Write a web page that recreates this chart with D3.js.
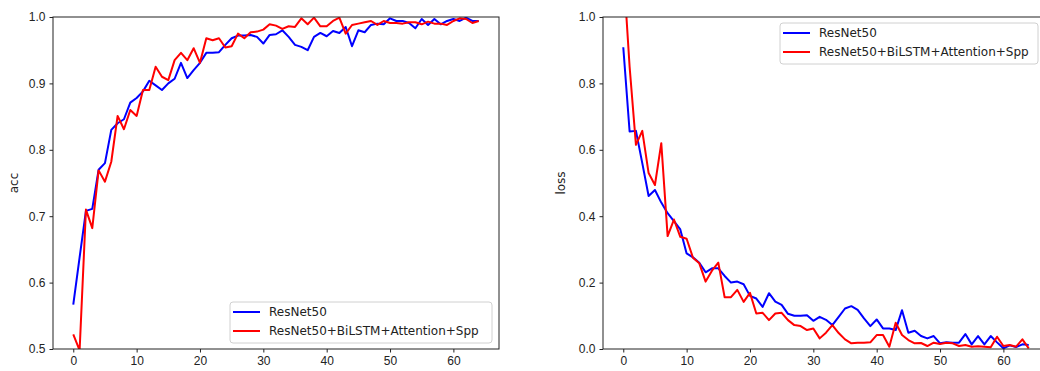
<!DOCTYPE html>
<html>
<head>
<meta charset="utf-8">
<script src="https://cdn.jsdelivr.net/npm/d3@7"></script>
<style>
  body { margin: 0; background: #fff; }
  svg { display: block; font-family: "DejaVu Sans", sans-serif; }
  .tick text { font-size: 12px; fill: #222; }
  .tick line { stroke: #222; }
</style>
</head>
<body>
<svg width="1040" height="371"></svg>
<script>
// epochs 0..64
const epochs = d3.range(65);

const seriesNames = ["ResNet50", "ResNet50+BiLSTM+Attention+Spp"];
const seriesColors = ["#0000ff", "#ff0000"];

const accResNet = [
    0.567, 0.638, 0.708, 0.711, 0.770, 0.780, 0.830, 0.840, 0.846, 0.871,
    0.878, 0.888, 0.904, 0.897, 0.890, 0.900, 0.907, 0.931, 0.908, 0.920,
    0.931, 0.946, 0.946, 0.947, 0.958, 0.968, 0.972, 0.972, 0.973, 0.970,
    0.960, 0.973, 0.974, 0.980, 0.970, 0.958, 0.955, 0.950, 0.970, 0.976,
    0.971, 0.979, 0.976, 0.985, 0.956, 0.980, 0.977, 0.988, 0.990, 0.989,
    0.998, 0.994, 0.994, 0.991, 0.983, 0.997, 0.988, 0.997, 0.989, 0.994,
    0.997, 0.994, 0.999, 0.994, 0.994
];
const accOurs = [
    0.522, 0.498, 0.710, 0.682, 0.769, 0.752, 0.782, 0.851, 0.831, 0.860,
    0.851, 0.890, 0.890, 0.925, 0.910, 0.905, 0.935, 0.946, 0.935, 0.953,
    0.931, 0.968, 0.965, 0.968, 0.954, 0.956, 0.975, 0.968, 0.977, 0.978,
    0.981, 0.989, 0.987, 0.982, 0.986, 0.985, 0.998, 0.989, 0.999, 0.986,
    0.986, 0.994, 0.999, 0.975, 0.988, 0.990, 0.992, 0.994, 0.988, 0.994,
    0.991, 0.991, 0.990, 0.992, 0.992, 0.989, 0.993, 0.990, 0.990, 0.988,
    0.994, 0.998, 0.997, 0.991, 0.994
];
const lossResNet = [
    0.909, 0.655, 0.657, 0.560, 0.461, 0.479, 0.441, 0.409, 0.385, 0.360,
    0.288, 0.276, 0.260, 0.231, 0.243, 0.243, 0.220, 0.200, 0.203, 0.195,
    0.160, 0.152, 0.127, 0.168, 0.143, 0.133, 0.106, 0.100, 0.100, 0.102,
    0.085, 0.097, 0.088, 0.072, 0.097, 0.122, 0.129, 0.118, 0.092, 0.069,
    0.089, 0.062, 0.062, 0.057, 0.117, 0.049, 0.055, 0.039, 0.032, 0.039,
    0.017, 0.020, 0.019, 0.019, 0.045, 0.014, 0.039, 0.014, 0.039, 0.020,
    0.002, 0.011, 0.006, 0.014, 0.012
];
const lossOurs = [
    1.150, 0.850, 0.615, 0.657, 0.530, 0.494, 0.620, 0.340, 0.390, 0.338,
    0.332, 0.275, 0.258, 0.203, 0.236, 0.260, 0.156, 0.156, 0.178, 0.142,
    0.169, 0.107, 0.109, 0.087, 0.107, 0.109, 0.087, 0.072, 0.069, 0.057,
    0.062, 0.032, 0.049, 0.072, 0.048, 0.029, 0.017, 0.019, 0.019, 0.020,
    0.042, 0.042, 0.007, 0.079, 0.042, 0.027, 0.017, 0.018, 0.009, 0.019,
    0.015, 0.019, 0.017, 0.009, 0.012, 0.007, 0.008, 0.007, 0.005, 0.037,
    0.009, 0.012, 0.007, 0.029, 0.002
];

const xTicks = [0, 10, 20, 30, 40, 50, 60];
const accTicks = [0.5, 0.6, 0.7, 0.8, 0.9, 1.0];
const lossTicks = [0.0, 0.2, 0.4, 0.6, 0.8, 1.0];

const svg = d3.select("svg");

function drawPanel(opts) {
    const { left, top, width, height } = opts;
    const g = svg.append("g").attr("transform", `translate(${left},${top})`);

    // matplotlib style margins around 0..64
    const x = d3.scaleLinear().domain([-3.2, 67.2]).range([0, width]);
    const y = d3.scaleLinear().domain(opts.yDomain).range([height, 0]);

    g.append("clipPath").attr("id", opts.id)
        .append("rect").attr("width", width).attr("height", height);

    const line = d3.line()
        .x((d, i) => x(epochs[i]))
        .y(d => y(d));

    opts.series.forEach((s, k) => {
        g.append("path")
            .attr("clip-path", `url(#${opts.id})`)
            .attr("d", line(s))
            .attr("fill", "none")
            .attr("stroke", seriesColors[k])
            .attr("stroke-width", 2)
            .attr("stroke-linejoin", "round");
    });

    // axes
    g.append("g")
        .attr("transform", `translate(0,${height})`)
        .call(d3.axisBottom(x).tickValues(xTicks).tickSize(3.5).tickSizeOuter(0).tickPadding(4))
        .call(a => a.select(".domain").remove());
    g.append("g")
        .call(d3.axisLeft(y).tickValues(opts.yTicks).tickFormat(d3.format(".1f"))
            .tickSize(3.5).tickSizeOuter(0).tickPadding(4))
        .call(a => a.select(".domain").remove());

    // spines
    g.append("rect")
        .attr("width", width).attr("height", height)
        .attr("fill", "none").attr("stroke", "#222").attr("stroke-width", 1);

    g.append("text")
        .attr("transform", `translate(${opts.labelX},${height / 2}) rotate(-90)`)
        .attr("text-anchor", "middle")
        .attr("font-size", 12)
        .attr("fill", "#222")
        .text(opts.label);

    // legend
    const lg = svg.append("g").attr("transform", `translate(${opts.legend[0]},${opts.legend[1]})`);
    lg.append("rect")
        .attr("width", opts.legend[2]).attr("height", 41).attr("rx", 3)
        .attr("fill", "#fff").attr("fill-opacity", 0.8)
        .attr("stroke", "#d0d0d0");
    seriesNames.forEach((name, k) => {
        const yy = 10 + k * 19;
        lg.append("line")
            .attr("x1", 3).attr("x2", 30).attr("y1", yy).attr("y2", yy)
            .attr("stroke", seriesColors[k]).attr("stroke-width", 2);
        lg.append("text")
            .attr("x", 39).attr("y", yy).attr("dy", "0.35em")
            .attr("font-size", 12).attr("fill", "#222")
            .text(name);
    });
}

drawPanel({
    id: "clipAcc", left: 53, top: 17, width: 446, height: 332,
    yDomain: [0.5, 1.0], yTicks: accTicks, label: "acc", labelX: -35,
    series: [accResNet, accOurs],
    legend: [230, 302, 262]
});

drawPanel({
    id: "clipLoss", left: 603, top: 17, width: 446, height: 332,
    yDomain: [0.0, 1.0], yTicks: lossTicks, label: "loss", labelX: -38,
    series: [lossResNet, lossOurs],
    legend: [780, 23, 258]
});
</script>
</body>
</html>
